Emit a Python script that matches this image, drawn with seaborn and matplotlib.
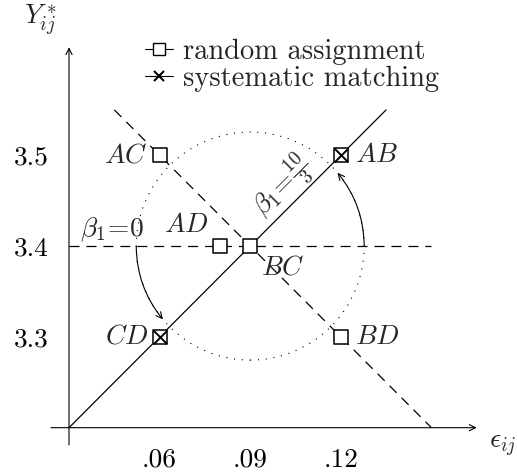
import matplotlib
matplotlib.use("Agg")
import matplotlib.pyplot as plt
import seaborn as sns
import numpy as np
from matplotlib.lines import Line2D
from matplotlib.patches import Ellipse

# ---------------- data ----------------
pairs = ["AC", "AB", "AD", "BC", "CD", "BD"]
eps = [0.06, 0.12, 0.08, 0.09, 0.06, 0.12]
ystar = [3.5, 3.5, 3.4, 3.4, 3.3, 3.3]
matched = [False, True, False, False, True, False]

fit_eps = [0.03, 0.135]      # beta1 = 10/3 line
fit_y = [3.2, 3.55]
null_eps = [0.03, 0.15]      # beta1 = 0 line
null_y = [3.4, 3.4]
cross_eps = [0.045, 0.15]    # other diagonal
cross_y = [3.55, 3.2]

xticks = [0.06, 0.08, 0.09, 0.12]
xticklabels = [".06", "", ".09", ".12"]
yticks = [3.3, 3.4, 3.5]
yticklabels = ["3.3", "3.4", "3.5"]
legend_labels = ["random assignment", "systematic matching"]

# ---------------- style ----------------
sns.set_style("white")
plt.rcParams["font.family"] = "serif"
plt.rcParams["font.serif"] = ["cmr10"]
plt.rcParams["mathtext.fontset"] = "cm"
plt.rcParams["lines.scale_dashes"] = False
FS = 19.7
LFS = 20.5

fig = plt.figure(figsize=(5.17, 4.74), dpi=100)
ax = fig.add_axes([0, 0, 1, 1])
ax.set_xlim(0.00715, 0.17834)
ax.set_ylim(3.149, 3.671)
for s in ax.spines.values():
    s.set_visible(False)
ax.spines["left"].set_position(("data", 0.03))
ax.spines["bottom"].set_position(("data", 3.2))

# axes with arrows
ax.annotate("", xy=(0.165, 3.2), xytext=(0.024, 3.2),
            arrowprops=dict(arrowstyle="->", lw=0.8, color="black",
                            shrinkA=0, shrinkB=0, mutation_scale=11))
ax.annotate("", xy=(0.03, 3.619), xytext=(0.03, 3.181),
            arrowprops=dict(arrowstyle="->", lw=0.8, color="black",
                            shrinkA=0, shrinkB=0, mutation_scale=11))

ax.set_xticks(xticks)
ax.set_xticklabels(xticklabels)
ax.set_yticks(yticks)
ax.set_yticklabels(yticklabels)
ax.tick_params(which="major", direction="out", length=6.5, width=0.8, pad=8,
               labelsize=FS, colors="black")
# small inner part of the ticks
ax.xaxis.remove_overlapping_locs = False
ax.yaxis.remove_overlapping_locs = False
ax.set_xticks(xticks, minor=True)
ax.set_yticks(yticks, minor=True)
ax.tick_params(which="minor", direction="in", length=2, width=0.8,
               colors="black", labelbottom=False, labelleft=False)
ax.set_xlabel("")
ax.set_ylabel("")

# lines
sns.lineplot(x=fit_eps, y=fit_y, color="black", lw=0.9, ax=ax, zorder=2)
sns.lineplot(x=null_eps, y=null_y, color="black", lw=0.9,
             linestyle=(0, (7.2, 5.0)), ax=ax, zorder=2)
sns.lineplot(x=cross_eps, y=cross_y, color="black", lw=0.9,
             linestyle=(0, (7.2, 5.0)), ax=ax, zorder=2)

# dotted circle around BC and solid arcs with arrows
cx, cy = 0.09, 3.4
r_px = 114.0
xs = (ax.get_xlim()[1] - ax.get_xlim()[0]) / 517.0
ys = (ax.get_ylim()[1] - ax.get_ylim()[0]) / 474.0
rx, ry = r_px * xs, r_px * ys
ax.add_patch(Ellipse((cx, cy), 2 * rx, 2 * ry, fill=False, edgecolor="black",
                     lw=0.8, linestyle=(0, (0.8, 4.8)), zorder=1))

def arc_arrow(a0, a1):
    p0 = (cx + rx * np.cos(np.radians(a0)), cy + ry * np.sin(np.radians(a0)))
    p1 = (cx + rx * np.cos(np.radians(a1)), cy + ry * np.sin(np.radians(a1)))
    half = np.radians(a1 - a0) / 2
    rad = (1 - np.cos(half)) / np.sin(half)
    ax.annotate("", xy=p1, xytext=p0,
                arrowprops=dict(arrowstyle="->", lw=0.8, color="black",
                                shrinkA=0, shrinkB=0, mutation_scale=11,
                                connectionstyle=f"arc3,rad={rad:.3f}"))

arc_arrow(0, 40)
arc_arrow(180, 220)

# markers
sns.scatterplot(x=eps, y=ystar, marker="s", s=95, facecolor="white",
                edgecolor="black", linewidth=1.1, ax=ax, zorder=5, legend=False)
m_eps = [e for e, m in zip(eps, matched) if m]
m_y = [y for y, m in zip(ystar, matched) if m]
sns.scatterplot(x=m_eps, y=m_y, marker="x", s=95, color="black",
                linewidth=1.4, ax=ax, zorder=6, legend=False)

# point labels
label_pos = {
    "AC": ((-9, 0), "right", "center"),
    "AB": ((10, 0), "left", "center"),
    "AD": ((-8.5, 6.5), "right", "bottom"),
    "BC": ((8, -7), "left", "top"),
    "CD": ((-8, 0), "right", "center"),
    "BD": ((10, 0), "left", "center"),
}
for name, x, y in zip(pairs, eps, ystar):
    off, ha, va = label_pos[name]
    ax.annotate(rf"${name}$", (x, y), xytext=off, textcoords="offset points",
                ha=ha, va=va, fontsize=FS, zorder=7)

ax.text(0.0444, 3.402, r"$\beta_1\!=\!0$", ha="center", va="bottom",
        fontsize=FS, zorder=7)
ax.text(0.1009, 3.465, r"$\beta_1\!=\!\frac{10}{3}$", ha="center",
        va="center", rotation=45, rotation_mode="anchor", fontsize=FS,
        zorder=7)
ax.text(0.0204, 3.649, r"$Y^*_{ij}$", ha="center", va="center", fontsize=FS)
ax.text(0.1737, 3.1798, r"$\epsilon_{ij}$", ha="center", va="center",
        fontsize=FS)

handles = [
    Line2D([], [], color="black", lw=0.8, marker="s", markersize=8.5,
           markerfacecolor="white", markeredgecolor="black",
           markeredgewidth=1.0),
    Line2D([], [], color="black", lw=0.8, marker="x", markersize=7,
           markeredgewidth=1.5),
]
ax.legend(handles, legend_labels, loc="upper left",
          bbox_to_anchor=(0.2805, 0.918), frameon=False, fontsize=LFS,
          handlelength=0.985, handletextpad=0.361, labelspacing=0.0,
          borderpad=0, borderaxespad=0)

fig.savefig("out.png", dpi=100)
